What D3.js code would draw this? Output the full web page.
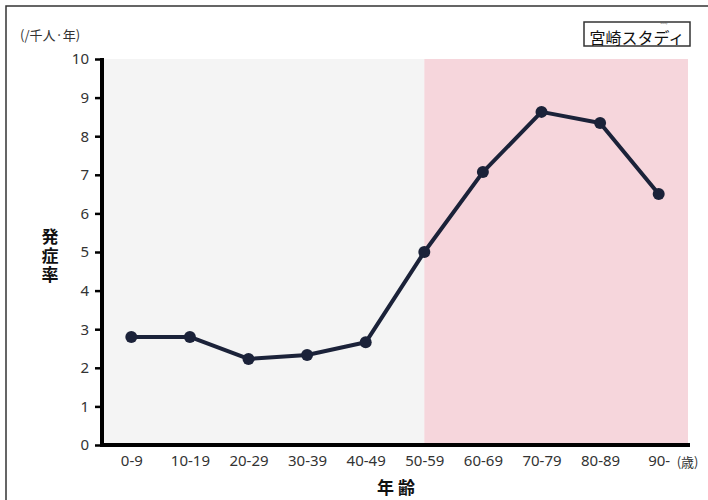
<!DOCTYPE html>
<html>
<head>
<meta charset="utf-8">
<script src="https://cdn.jsdelivr.net/npm/d3@7"></script>
<style>
  body { margin: 0; background: #fff; }
  text { font-family: "Noto Sans CJK JP", "Noto Sans", sans-serif; }
</style>
</head>
<body>
<script>
// age groups and incidence (per 1000 person-years)
var ageGroups = ['0-9', '10-19', '20-29', '30-39', '40-49', '50-59', '60-69', '70-79', '80-89', '90-'];
var incidence = [2.8, 2.8, 2.23, 2.33, 2.66, 5.0, 7.07, 8.63, 8.34, 6.5];
var yTicks = [0, 1, 2, 3, 4, 5, 6, 7, 8, 9, 10];
var highlightFrom = '50-59';

var width = 708, height = 500;
var plotLeft = 102, plotRight = 688, plotTop = 59, plotBottom = 445;

var svg = d3.select('body').append('svg')
    .attr('width', width)
    .attr('height', height);

// outer frame
svg.append('rect')
    .attr('x', 6).attr('y', 6)
    .attr('width', 720).attr('height', 520)
    .attr('fill', 'none')
    .attr('stroke', '#333')
    .attr('stroke-width', 1.5);

var x = d3.scalePoint().domain(ageGroups).range([plotLeft, plotRight]).padding(0.5);
var y = d3.scaleLinear().domain([0, 10]).range([plotBottom, plotTop]);

// background zones
svg.append('rect')
    .attr('x', plotLeft).attr('y', plotTop)
    .attr('width', x(highlightFrom) - plotLeft)
    .attr('height', plotBottom - plotTop)
    .attr('fill', '#f4f4f4');

svg.append('rect')
    .attr('x', x(highlightFrom)).attr('y', plotTop)
    .attr('width', plotRight - x(highlightFrom))
    .attr('height', plotBottom - plotTop)
    .attr('fill', '#f6d6dc');

// y axis
var yAxis = svg.append('g')
    .attr('transform', 'translate(' + plotLeft + ',0)')
    .call(d3.axisLeft(y).tickValues(yTicks).tickSize(7).tickPadding(6).tickFormat(d3.format('d')));
yAxis.select('.domain').attr('stroke', '#000').attr('stroke-width', 4)
    .attr('d', 'M0,' + (plotTop - 1) + 'V' + (plotBottom + 2));
yAxis.selectAll('.tick line').attr('stroke', '#000').attr('stroke-width', 2.5);
yAxis.selectAll('.tick text').attr('fill', '#333').style('font-size', '15px')
    .style('font-family', '"Noto Sans", sans-serif');

// x axis
var xAxis = svg.append('g')
    .attr('transform', 'translate(0,' + plotBottom + ')')
    .call(d3.axisBottom(x).tickSize(0).tickPadding(10));
xAxis.select('.domain').attr('stroke', '#000').attr('stroke-width', 4)
    .attr('d', 'M' + (plotLeft - 2) + ',0H' + (plotRight + 2));
xAxis.selectAll('.tick text').attr('fill', '#333').style('font-size', '15px')
    .style('font-family', '"Noto Sans", sans-serif');

svg.append('text')
    .attr('x', x('90-') + 18).attr('y', 467)
    .attr('fill', '#333')
    .style('font-size', '13px')
    .text('(歳)');

// line + markers
var line = d3.line()
    .x(function (d, i) { return x(ageGroups[i]); })
    .y(function (d) { return y(d); });

svg.append('path')
    .datum(incidence)
    .attr('d', line)
    .attr('fill', 'none')
    .attr('stroke', '#1b2239')
    .attr('stroke-width', 4)
    .attr('stroke-linejoin', 'round');

svg.selectAll('circle.pt')
    .data(incidence)
    .enter().append('circle')
    .attr('class', 'pt')
    .attr('cx', function (d, i) { return x(ageGroups[i]); })
    .attr('cy', function (d) { return y(d); })
    .attr('r', 6)
    .attr('fill', '#1b2239');

// titles
svg.append('text')
    .attr('x', 20).attr('y', 40)
    .attr('fill', '#333')
    .style('font-size', '13px')
    .text('(/千人·年)');

// vertical y title
svg.append('text')
    .attr('x', 50).attr('y', 228)
    .attr('fill', '#111')
    .style('font-size', '17px')
    .style('font-weight', 'bold')
    .style('writing-mode', 'vertical-rl')
    .style('text-orientation', 'upright')
    .style('letter-spacing', '2px')
    .text('発症率');

svg.append('text')
    .attr('x', 396).attr('y', 494)
    .attr('text-anchor', 'middle')
    .attr('fill', '#111')
    .style('font-size', '17px')
    .style('font-weight', 'bold')
    .text('年 齢');

// logo box
var logo = svg.append('g');
logo.append('rect')
    .attr('x', 584).attr('y', 22)
    .attr('width', 106).attr('height', 24)
    .attr('fill', '#fff')
    .attr('stroke', '#333')
    .attr('stroke-width', 1.5);
logo.append('text')
    .attr('x', 637).attr('y', 43.5)
    .attr('text-anchor', 'middle')
    .attr('fill', '#111')
    .style('font-size', '16px')
    .text('宮崎スタディ');
logo.append('text')
    .attr('x', 664).attr('y', 24.2)
    .attr('text-anchor', 'middle')
    .attr('fill', '#555')
    .style('font-size', '2.5px')
    .style('font-family', '"DejaVu Sans", sans-serif')
    .text('study');
</script>
</body>
</html>
